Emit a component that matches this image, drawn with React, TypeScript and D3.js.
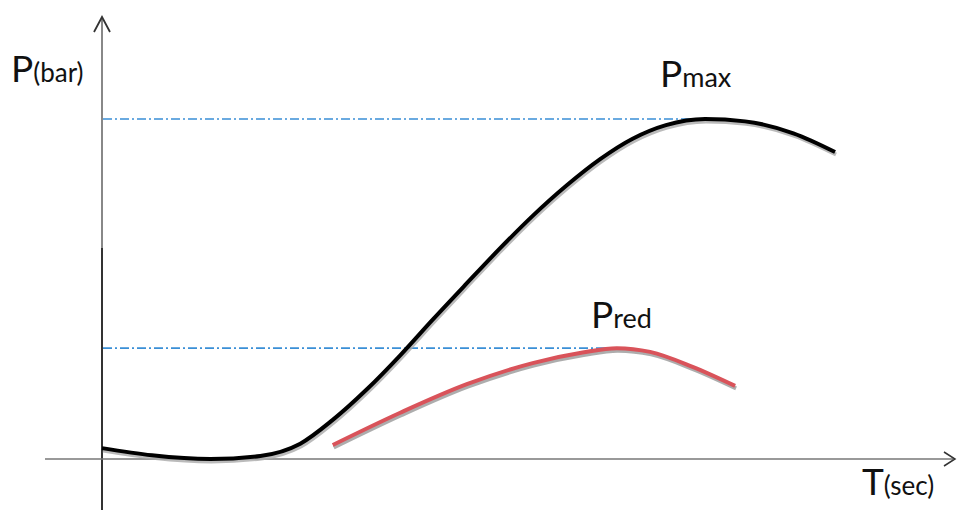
import React from "react";
import * as d3 from "d3";

const W = 959;
const H = 516;

// P(bar) vs T(sec) — black curve (Pmax)
const pmaxT = [0, 0.6, 1.3, 1.9, 2.38, 2.77, 3.18, 3.58, 3.97, 4.38, 4.78, 5.17, 5.58, 5.98, 6.37, 6.77, 7.24, 7.72, 8.3, 8.8];
const pmaxP = [0.32, 0.11, 0, 0.09, 0.45, 1.15, 2.05, 3.05, 4.1, 5.17, 6.2, 7.15, 8.05, 8.82, 9.42, 9.82, 10.0, 9.93, 9.58, 9.03];

// red curve (Pred)
const predT = [2.77, 3.58, 4.38, 5.17, 5.77, 6.18, 6.58, 7.09, 7.6];
const predP = [0.41, 1.36, 2.2, 2.82, 3.13, 3.26, 3.15, 2.71, 2.15];

// reference levels
const levelP = [10, 3.26];
const levelEndT = [7.38, 6.22];

export default function App() {
  const x = d3.scaleLinear().domain([0, 10]).range([102, 935]);
  const y = d3.scaleLinear().domain([0, 10]).range([459, 119]);

  const line = d3
    .line<[number, number]>()
    .x((d) => x(d[0]))
    .y((d) => y(d[1]))
    .curve(d3.curveMonotoneX);

  const blackPts = pmaxT.map((t, i) => [t, pmaxP[i]] as [number, number]);
  const redPts = predT.map((t, i) => [t, predP[i]] as [number, number]);

  const font = "Lato, 'Open Sans', sans-serif";

  return (
    <svg
      width={W}
      height={H}
      style={{ position: "absolute", left: 0, top: 0, background: "#fff" }}
    >
      {/* axes */}
      <line x1={102} y1={18} x2={102} y2={248} stroke="#888" strokeWidth={2} />
      <line x1={102} y1={248} x2={102} y2={510} stroke="#333" strokeWidth={2} />
      <path d="M94,32 L102,17 L110,32" fill="none" stroke="#333" strokeWidth={1.8} />
      <line x1={45} y1={y(0)} x2={953} y2={y(0)} stroke="#777" strokeWidth={1.6} />
      <path d="M944,452 L955,459 L944,466" fill="none" stroke="#333" strokeWidth={1.5} />

      {/* dash-dot level lines */}
      {levelP.map((p, i) => (
        <line
          key={i}
          x1={103}
          y1={y(p)}
          x2={x(levelEndT[i])}
          y2={y(p)}
          stroke="#3a8fd6"
          strokeWidth={1.6}
          strokeDasharray="9 3 2 3"
        />
      ))}

      {/* shadows */}
      <path d={line(blackPts) || ""} fill="none" stroke="#aaa" strokeWidth={4} transform="translate(1,2.5)" opacity={0.8} />
      <path d={line(redPts) || ""} fill="none" stroke="#999" strokeWidth={4} transform="translate(1,2.5)" opacity={0.8} />

      {/* curves */}
      <path d={line(blackPts) || ""} fill="none" stroke="#000" strokeWidth={4} strokeLinecap="butt" />
      <path d={line(redPts) || ""} fill="none" stroke="#d9535a" strokeWidth={4} strokeLinecap="butt" />

      {/* labels */}
      <text x={11} y={82} fontFamily={font} fill="#111">
        <tspan fontSize={37}>P</tspan>
        <tspan fontSize={26}>(bar)</tspan>
      </text>
      <text x={660} y={87} fontFamily={font} fill="#111">
        <tspan fontSize={37}>P</tspan>
        <tspan fontSize={27}>max</tspan>
      </text>
      <text x={591} y={328} fontFamily={font} fill="#111">
        <tspan fontSize={37}>P</tspan>
        <tspan fontSize={27}>red</tspan>
      </text>
      <text x={862} y={495} fontFamily={font} fill="#111">
        <tspan fontSize={37}>T</tspan>
        <tspan fontSize={26}>(sec)</tspan>
      </text>
    </svg>
  );
}
